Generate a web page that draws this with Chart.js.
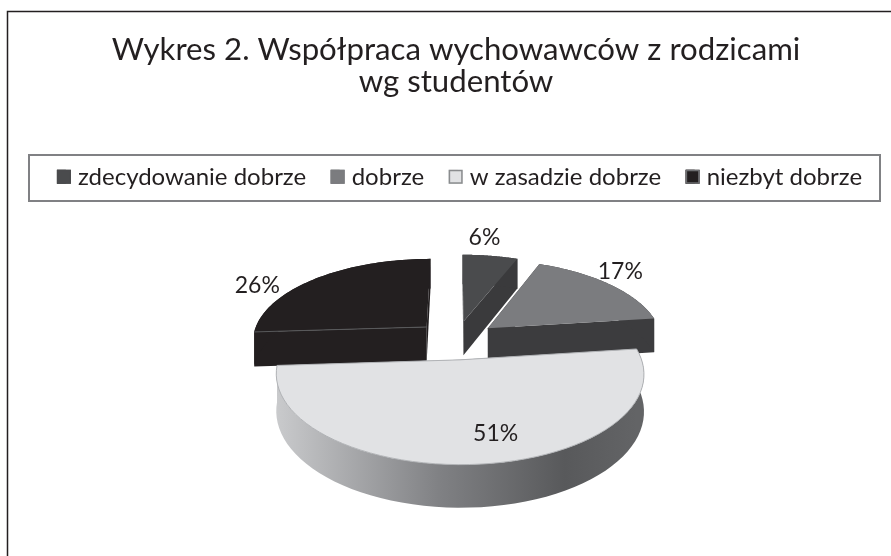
<!DOCTYPE html>
<html>
<head>
<meta charset="utf-8">
<script src="https://cdn.jsdelivr.net/npm/chart.js@4/dist/chart.umd.min.js"></script>
<style>
  html, body { margin: 0; padding: 0; background: #fff; }
  canvas { display: block; }
</style>
</head>
<body>
<canvas id="pie3d" width="891" height="556"></canvas>
<script>
const titleLines = ["Wykres 2. Współpraca wychowawców z rodzicami", "wg studentów"];
const categories = ["zdecydowanie dobrze", "dobrze", "w zasadzie dobrze", "niezbyt dobrze"];
const shares = [6, 17, 51, 26];

const topColors = ["#4a4b4d", "#7b7c7f", "#e1e2e4", "#231f20"];
const wallColors = ["#3a3a3c", "#3c3c3e", null, "#231f20"];
const swatchEdges = ["#4a4b4d", "#7b7c7f", "#8a8c8e", "#6d6e71"];

// fake perspective for the exploded pie, units are px of the flat pie
const flatten = 0.483, widen = 1.03, horizon = 1118, depth = 35, shiftX = -3.5;

function project(cx, cy, dx, dy, z) {
    const p = 1 / (1 - dy / horizon);
    return [cx + shiftX + dx * widen * p, cy + dy * flatten * p + (z || 0) * p];
}

function sliceGeom(arc) {
    const mid = (arc.startAngle + arc.endAngle) / 2;
    const off = arc.options.offset;
    return { ox: Math.cos(mid) * off, oy: Math.sin(mid) * off, mid: mid };
}

function polygon(ctx, pts) {
    ctx.beginPath();
    pts.forEach((p, i) => i ? ctx.lineTo(p[0], p[1]) : ctx.moveTo(p[0], p[1]));
    ctx.closePath();
}

function drawSlice(ctx, arc, index) {
    const g = sliceGeom(arc);
    const r = arc.outerRadius;
    const rim = [];
    const steps = 60;
    for (let i = 0; i <= steps; i++) {
        const a = arc.startAngle + (arc.endAngle - arc.startAngle) * i / steps;
        rim.push([g.ox + Math.cos(a) * r, g.oy + Math.sin(a) * r]);
    }
    const at = (p, z) => project(arc.x, arc.y, p[0], p[1], z);
    const hub = [g.ox, g.oy];
    const topPts = [at(hub, 0)].concat(rim.map(p => at(p, 0)));

    // walls
    let wallFill = wallColors[index];
    if (!wallFill) {
        const first = at(rim[rim.length - 1], 0)[0];
        const last = at(rim[0], 0)[0];
        wallFill = ctx.createLinearGradient(first, 0, last, 0);
        wallFill.addColorStop(0, "#c9cacc");
        wallFill.addColorStop(0.45, "#808184");
        wallFill.addColorStop(0.8, "#58595b");
        wallFill.addColorStop(1, "#636466");
    }
    ctx.fillStyle = wallFill;
    polygon(ctx, [at(hub, 0), at(rim[0], 0), at(rim[0], depth), at(hub, depth)]);
    ctx.fill();
    polygon(ctx, [at(hub, 0), at(rim[steps], 0), at(rim[steps], depth), at(hub, depth)]);
    ctx.fill();
    const wall = rim.map(p => at(p, 0)).concat(rim.slice().reverse().map(p => at(p, depth)));
    polygon(ctx, wall);
    ctx.fill();

    // top face
    polygon(ctx, topPts);
    ctx.fillStyle = arc.options.backgroundColor;
    ctx.fill();
    if (index === 2) {
        ctx.strokeStyle = "#b1b3b6";
        ctx.lineWidth = 1;
        ctx.stroke();
    }
    if (index === 3) {
        // faint seam between the top and the front cut
        const a = at(hub, 0), b = at(rim[0], 0);
        ctx.strokeStyle = "#58595b";
        ctx.lineWidth = 1;
        ctx.beginPath();
        ctx.moveTo(a[0], a[1]);
        ctx.lineTo(b[0], b[1]);
        ctx.stroke();
    }
}

const labelNudge = [[-9, -10], [11, -13], [27, 31], [-59, 7]];

const pie3dPlugin = {
    id: "pie3d",
    afterLayout(chart) {
        // title sits a little left of the legend centre
        chart.titleBlock.right -= 7;
    },
    beforeDraw(chart) {
        const ctx = chart.ctx;
        ctx.save();
        ctx.strokeStyle = "#231f20";
        ctx.lineWidth = 1.5;
        ctx.beginPath();
        ctx.moveTo(7.5, 556);
        ctx.lineTo(7.5, 11.5);
        ctx.lineTo(891, 11.5);
        ctx.stroke();
        ctx.strokeStyle = "#808184";
        ctx.lineWidth = 2;
        ctx.strokeRect(29, 155, 851, 46);
        ctx.restore();
    },
    beforeDatasetsDraw(chart) {
        const ctx = chart.ctx;
        const arcs = chart.getDatasetMeta(0).data;
        ctx.save();
        [0, 1, 3, 2].forEach(i => drawSlice(ctx, arcs[i], i));
        ctx.fillStyle = "#231f20";
        ctx.font = "23px Lato";
        ctx.textAlign = "center";
        ctx.textBaseline = "middle";
        arcs.forEach((arc, i) => {
            const g = sliceGeom(arc);
            const k = i === 2 ? 0.45 : (i === 0 ? 1.14 : 1);
            const r = arc.outerRadius * k;
            const p = project(arc.x, arc.y, g.ox + Math.cos(g.mid) * r, g.oy + Math.sin(g.mid) * r, 0);
            ctx.fillText(shares[i] + "%", p[0] + labelNudge[i][0], p[1] + labelNudge[i][1]);
        });
        ctx.restore();
        return false;
    },
    afterDraw(chart) {
        // legend swatches sit closer to their text than the built-in gap allows,
        // so the built-in box is kept narrow and widened here
        const ctx = chart.ctx;
        ctx.save();
        chart.legend.legendHitBoxes.forEach((box, i) => {
            const y = box.top + (box.height - 14) / 2;
            ctx.fillStyle = topColors[i];
            ctx.fillRect(box.left, y, 14, 14);
            ctx.strokeStyle = swatchEdges[i];
            ctx.lineWidth = 1.5;
            ctx.strokeRect(box.left + 0.75, y + 0.75, 12.5, 12.5);
        });
        ctx.restore();
    }
};

new Chart(document.getElementById("pie3d"), {
    type: "pie",
    data: {
        labels: categories,
        datasets: [{
            data: shares,
            backgroundColor: topColors,
            borderWidth: 0,
            offset: 40,
            radius: 170
        }]
    },
    plugins: [pie3dPlugin],
    options: {
        responsive: false,
        animation: false,
        layout: { padding: { left: 28, right: 0, top: 0, bottom: 75 } },
        plugins: {
            tooltip: { enabled: false },
            title: {
                display: true,
                text: titleLines,
                color: "#231f20",
                font: { family: "Lato", size: 31.2, weight: "normal", lineHeight: 1.03 },
                padding: { top: 34, bottom: 42 }
            },
            legend: {
                position: "top",
                labels: {
                    color: "#231f20",
                    font: { family: "Lato", size: 24 },
                    boxWidth: 9,
                    boxHeight: 14,
                    padding: 24.5
                }
            }
        }
    }
});
</script>
</body>
</html>
